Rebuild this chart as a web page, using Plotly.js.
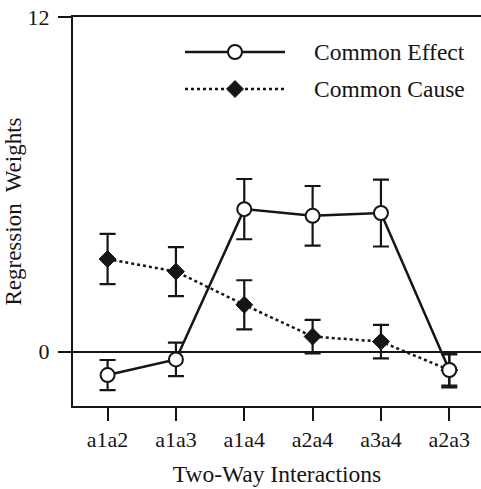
<!DOCTYPE html>
<html>
<head>
<meta charset="utf-8">
<script src="https://cdn.plot.ly/plotly-3.0.1.min.js"></script>
<style>html,body{margin:0;padding:0;background:#fff;}#chart{width:481px;height:489px;}</style>
</head>
<body>
<div id="chart"></div>
<script>
const categories = ["a1a2", "a1a3", "a1a4", "a2a4", "a3a4", "a2a3"];
const commonEffect = [-0.84, -0.28, 5.11, 4.87, 4.97, -0.66];
const commonEffectErr = [0.54, 0.60, 1.08, 1.07, 1.20, 0.56];
const commonCause = [3.32, 2.87, 1.68, 0.54, 0.36, -0.66];
const commonCauseErr = [0.90, 0.88, 0.88, 0.60, 0.60, 0.62];
const yTickVals = [0, 12];
const yTickText = ["0", "12"];
const seriesNames = ["Common Effect", "Common Cause"];

const ink = "#151515";
const serif = "Liberation Serif";
const idx = categories.map((c, i) => i);

const traces = [
  {
    x: idx, y: commonCause, type: "scatter", mode: "lines+markers",
    name: seriesNames[1], showlegend: false,
    line: {color: ink, width: 2.5, dash: "dot"},
    marker: {symbol: "diamond", size: 13, color: ink, line: {color: ink, width: 1}},
    error_y: {type: "data", array: commonCauseErr, visible: true, color: ink, thickness: 2.2, width: 8}
  },
  {
    x: idx, y: commonEffect, type: "scatter", mode: "lines+markers",
    name: seriesNames[0], showlegend: false,
    line: {color: ink, width: 2.5},
    marker: {symbol: "circle", size: 14, color: "#fff", line: {color: ink, width: 2}},
    error_y: {type: "data", array: commonEffectErr, visible: true, color: ink, thickness: 2.2, width: 8}
  },
  {x: [185, 285], y: [52, 52], xaxis: "x2", yaxis: "y2", mode: "lines", showlegend: false,
   line: {color: ink, width: 2.5}},
  {x: [235], y: [52], xaxis: "x2", yaxis: "y2", mode: "markers", showlegend: false,
   marker: {symbol: "circle", size: 14, color: "#fff", line: {color: ink, width: 2}}},
  {x: [185, 285], y: [89, 89], xaxis: "x2", yaxis: "y2", mode: "lines", showlegend: false,
   line: {color: ink, width: 2.5, dash: "dot"}},
  {x: [235], y: [89], xaxis: "x2", yaxis: "y2", mode: "markers", showlegend: false,
   marker: {symbol: "diamond", size: 13, color: ink, line: {color: ink, width: 1}}}
];

const layout = {
  width: 481, height: 489,
  margin: {l: 73, r: 0, t: 17, b: 83},
  paper_bgcolor: "#fff", plot_bgcolor: "#fff",
  font: {family: serif, color: ink, size: 22},
  showlegend: false,
  xaxis: {
    range: [-0.506, 5.464], tickvals: idx, ticktext: categories,
    showgrid: false, zeroline: false, showline: true, mirror: true,
    linecolor: ink, linewidth: 2,
    ticks: "outside", ticklen: 13, tickwidth: 2, tickcolor: ink,
    tickfont: {family: serif, size: 22, color: ink},
    title: {text: "Two-Way Interactions", font: {family: serif, size: 23.5, color: ink}, standoff: 14}
  },
  yaxis: {
    range: [-1.95, 12], tickvals: yTickVals, ticktext: yTickText,
    showgrid: false, zeroline: true, zerolinecolor: ink, zerolinewidth: 2,
    showline: true, mirror: false, linecolor: ink, linewidth: 2,
    ticks: "outside", ticklen: 13, tickwidth: 2, tickcolor: ink,
    ticklabelstandoff: 4,
    tickfont: {family: serif, size: 22, color: ink},
    title: {text: "Regression\u00a0 Weights", font: {family: serif, size: 23, color: ink}, standoff: 0}
  },
  xaxis2: {overlaying: "x", range: [73, 481], visible: false, fixedrange: true},
  yaxis2: {overlaying: "y", range: [406, 17], visible: false, fixedrange: true},
  annotations: [
    {xref: "x2", yref: "y2", x: 312, y: 52, text: seriesNames[0], showarrow: false, xanchor: "left", yanchor: "middle",
     font: {family: serif, size: 23.5, color: ink}},
    {xref: "x2", yref: "y2", x: 312, y: 89, text: seriesNames[1], showarrow: false, xanchor: "left", yanchor: "middle",
     font: {family: serif, size: 23.5, color: ink}}
  ]
};

Plotly.newPlot("chart", traces, layout, {staticPlot: true, displayModeBar: false});
</script>
</body>
</html>
